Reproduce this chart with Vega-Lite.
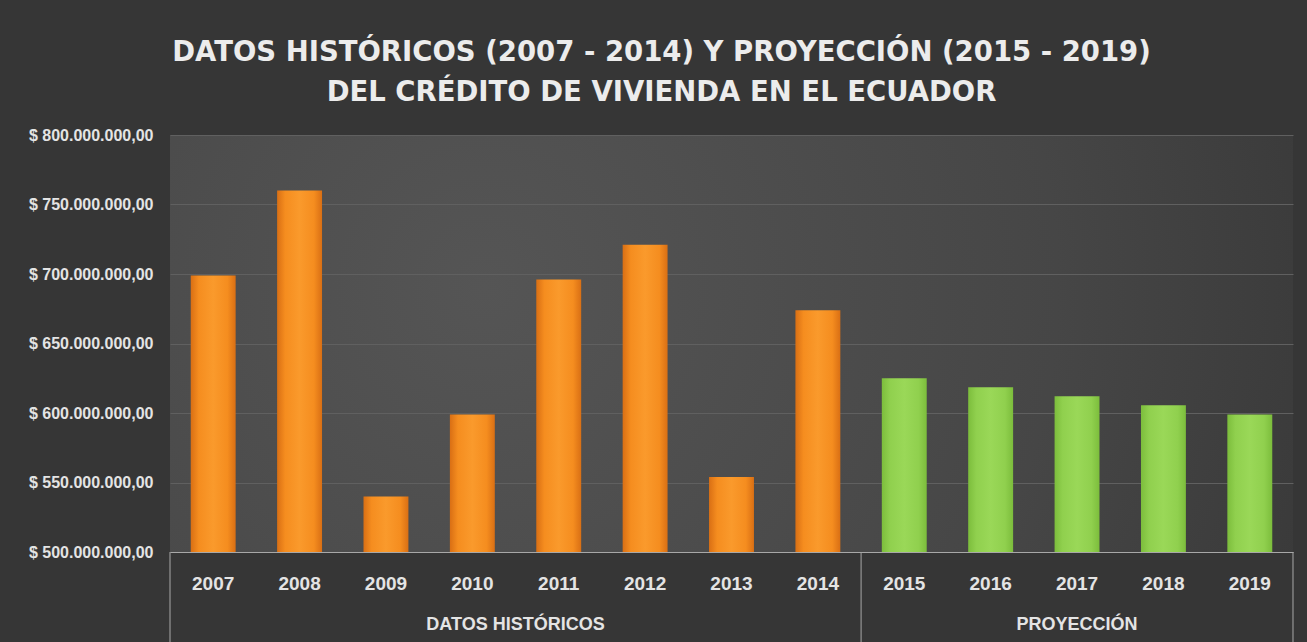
{
  "$schema": "https://vega.github.io/schema/vega-lite/v6.json",
  "width": 1123,
  "height": 417,
  "autosize": {"type": "none"},
  "padding": {"left": 170, "top": 135, "right": 14, "bottom": 90},
  "background": "#363636",
  "title": {
    "text": ["DATOS HISTÓRICOS (2007 - 2014) Y PROYECCIÓN (2015 - 2019)", "DEL  CRÉDITO DE VIVIENDA EN EL ECUADOR"],
    "anchor": "middle",
    "frame": "group",
    "dx": -70,
    "font": "DejaVu Sans",
    "fontSize": 27.5,
    "fontWeight": "bold",
    "color": "#ececec",
    "lineHeight": 40,
    "offset": 21
  },
  "config": {
    "font": "Liberation Sans",
    "view": {
      "stroke": null,
      "fill": {
        "gradient": "radial",
        "x1": 0.28, "y1": 0.45, "r1": 0,
        "x2": 0.28, "y2": 0.45, "r2": 0.85,
        "stops": [
          {"offset": 0, "color": "#555555"},
          {"offset": 0.6, "color": "#464646"},
          {"offset": 1, "color": "#363636"}
        ]
      }
    },
    "axisX": {
      "title": null, "labelAngle": 0, "ticks": false, "grid": false,
      "domainColor": "#a8a8a8", "domainWidth": 1,
      "labelFontSize": 19, "labelFontWeight": "bold", "labelColor": "#e4e4e4", "labelPadding": 22
    },
    "axisY": {
      "title": null, "domain": false, "ticks": false,
      "gridColor": "#606060", "gridWidth": 1,
      "labelFontSize": 16, "labelFontWeight": "bold", "labelColor": "#e4e4e4", "labelPadding": 17
    }
  },
  "datasets": {
    "valores": [
      {"year": "2007", "valor": 699000000, "grupo": "DATOS HISTÓRICOS"},
      {"year": "2008", "valor": 760000000, "grupo": "DATOS HISTÓRICOS"},
      {"year": "2009", "valor": 540000000, "grupo": "DATOS HISTÓRICOS"},
      {"year": "2010", "valor": 599000000, "grupo": "DATOS HISTÓRICOS"},
      {"year": "2011", "valor": 696000000, "grupo": "DATOS HISTÓRICOS"},
      {"year": "2012", "valor": 721000000, "grupo": "DATOS HISTÓRICOS"},
      {"year": "2013", "valor": 554000000, "grupo": "DATOS HISTÓRICOS"},
      {"year": "2014", "valor": 674000000, "grupo": "DATOS HISTÓRICOS"},
      {"year": "2015", "valor": 625000000, "grupo": "PROYECCIÓN"},
      {"year": "2016", "valor": 618500000, "grupo": "PROYECCIÓN"},
      {"year": "2017", "valor": 612000000, "grupo": "PROYECCIÓN"},
      {"year": "2018", "valor": 605500000, "grupo": "PROYECCIÓN"},
      {"year": "2019", "valor": 599000000, "grupo": "PROYECCIÓN"}
    ],
    "divisiones_inicio": [{"year": "2007"}, {"year": "2015"}],
    "division_fin": [{"year": "2019"}],
    "etiqueta_historicos": [{"year": "2011", "grupo": "DATOS HISTÓRICOS"}],
    "etiqueta_proyeccion": [{"year": "2017", "grupo": "PROYECCIÓN"}]
  },
  "encoding": {
    "x": {
      "field": "year", "type": "ordinal",
      "scale": {"domain": ["2007","2008","2009","2010","2011","2012","2013","2014","2015","2016","2017","2018","2019"], "paddingInner": 0.48, "paddingOuter": 0.24},
      "axis": {"title": null}
    }
  },
  "layer": [
    {
      "data": {"name": "valores"},
      "transform": [{"filter": {"field": "grupo", "equal": "DATOS HISTÓRICOS"}}],
      "mark": {
        "type": "bar",
        "color": {
          "gradient": "linear", "x1": 0, "x2": 1, "y1": 0, "y2": 0,
          "stops": [
            {"offset": 0, "color": "#d96f14"},
            {"offset": 0.18, "color": "#f58d1f"},
            {"offset": 0.5, "color": "#fa9a2c"},
            {"offset": 0.82, "color": "#f58d1f"},
            {"offset": 1, "color": "#d96f14"}
          ]
        }
      },
      "encoding": {
        "y": {
          "field": "valor", "type": "quantitative",
          "scale": {"domain": [500000000, 800000000], "nice": false, "zero": false},
          "axis": {
            "title": null,
            "values": [500000000, 550000000, 600000000, 650000000, 700000000, 750000000, 800000000],
            "labelExpr": "'$ ' + replace(replace(replace(format(datum.value, ',.2f'), regexp(',', 'g'), '_'), regexp('[.]', 'g'), ','), regexp('_', 'g'), '.')"
          }
        },
        "y2": {"datum": 500000000}
      }
    },
    {
      "data": {"name": "valores"},
      "transform": [{"filter": {"field": "grupo", "equal": "PROYECCIÓN"}}],
      "mark": {
        "type": "bar",
        "color": {
          "gradient": "linear", "x1": 0, "x2": 1, "y1": 0, "y2": 0,
          "stops": [
            {"offset": 0, "color": "#7cbd3c"},
            {"offset": 0.18, "color": "#90d04e"},
            {"offset": 0.5, "color": "#9ad858"},
            {"offset": 0.82, "color": "#90d04e"},
            {"offset": 1, "color": "#7cbd3c"}
          ]
        }
      },
      "encoding": {
        "y": {"field": "valor", "type": "quantitative", "axis": {"title": null}},
        "y2": {"datum": 500000000}
      }
    },
    {
      "data": {"name": "divisiones_inicio"},
      "mark": {"type": "rule", "color": "#a8a8a8", "strokeWidth": 1},
      "encoding": {
        "x": {"field": "year", "type": "ordinal", "bandPosition": -0.4615, "axis": {"title": null}},
        "y": {"datum": 500000000, "type": "quantitative", "axis": {"title": null}},
        "y2": {"datum": 435000000}
      }
    },
    {
      "data": {"name": "division_fin"},
      "mark": {"type": "rule", "color": "#a8a8a8", "strokeWidth": 1},
      "encoding": {
        "x": {"field": "year", "type": "ordinal", "bandPosition": 1.4615, "axis": {"title": null}},
        "y": {"datum": 500000000, "type": "quantitative", "axis": {"title": null}},
        "y2": {"datum": 435000000}
      }
    },
    {
      "data": {"name": "etiqueta_historicos"},
      "mark": {"type": "text", "fontSize": 18, "fontWeight": "bold", "color": "#e4e4e4", "baseline": "middle", "align": "center"},
      "encoding": {
        "x": {"field": "year", "type": "ordinal", "bandPosition": -0.4615, "axis": {"title": null}},
        "y": {"datum": 447500000, "type": "quantitative", "axis": {"title": null}},
        "text": {"field": "grupo"}
      }
    },
    {
      "data": {"name": "etiqueta_proyeccion"},
      "mark": {"type": "text", "fontSize": 18, "fontWeight": "bold", "color": "#e4e4e4", "baseline": "middle", "align": "center"},
      "encoding": {
        "x": {"field": "year", "type": "ordinal", "bandPosition": 0.5, "axis": {"title": null}},
        "y": {"datum": 447500000, "type": "quantitative", "axis": {"title": null}},
        "text": {"field": "grupo"}
      }
    }
  ]
}
